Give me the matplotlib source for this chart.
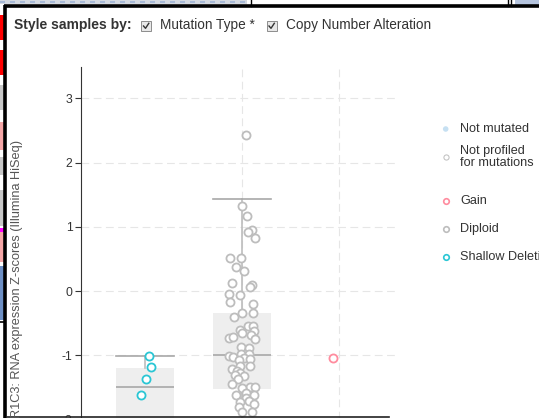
import matplotlib.pyplot as plt
from matplotlib.patches import Rectangle

plt.rcParams['font.family'] = ['Liberation Sans', 'DejaVu Sans']

# Categorias (alteracion de numero de copias) y colores
categories = ["Shallow Deletion", "Diploid", "Gain"]
cat_colors = ["#2ac6d4", "#bdbdbd", "#ff8c9f"]

shallow_values = [-1.01, -1.19, -1.37, -1.62]
shallow_jitter = [0.04, 0.06, 0.01, -0.04]

diploid_values = [2.43, 1.32, 1.17, 0.95, 0.92, 0.82, 0.52, 0.51, 0.38, 0.31,
                  0.12, 0.09, 0.06, -0.05, -0.07, -0.17, -0.20, -0.34, -0.34, -0.41,
                  -0.55, -0.54, -0.61, -0.63, -0.65, -0.69, -0.73, -0.72, -0.74, -0.87,
                  -0.89, -1.01, -1.02, -0.98, -0.98, -1.05, -1.08, -1.06, -1.16, -1.16,
                  -1.22, -1.24, -1.27, -1.31, -1.33, -1.37, -1.44, -1.49, -1.51, -1.50,
                  -1.58, -1.62, -1.62, -1.67, -1.72, -1.71, -1.76, -1.81, -1.89, -1.88]
diploid_jitter = [0.045, -0.003, 0.056, 0.103, 0.062, 0.134, -0.127, -0.010, -0.065, 0.021,
                  -0.103, 0.103, 0.079, -0.134, -0.016, -0.127, 0.113, 0.004, 0.113, -0.082,
                  0.059, 0.110, -0.021, 0.121, -0.003, 0.090, -0.137, -0.093, 0.131, -0.006,
                  0.069, -0.134, -0.093, -0.006, 0.069, 0.021, -0.031, 0.079, -0.024, 0.085,
                  -0.103, -0.052, -0.016, -0.070, 0.018, -0.037, -0.103, 0.079, 0.004, 0.131,
                  0.045, -0.065, 0.121, 0.038, -0.016, 0.072, 0.128, -0.031, 0.004, 0.103]

gain_values = [-1.04]
gain_jitter = [-0.065]

# Estadisticas de las cajas (q1, mediana, q3, bigotes)
box_q1 = [-2.3, -1.52]
box_med = [-1.49, -1.0]
box_q3 = [-1.20, -0.34]
box_whislo = [-2.6, -2.6]
box_whishi = [-1.01, 1.43]

y_ticks = [-2, -1, 0, 1, 2, 3]
y_label = "R1C3: RNA expression Z-scores (Illumina HiSeq)"

legend_mut = ["Not mutated", "Not profiled\nfor mutations"]
legend_cna = ["Gain", "Diploid", "Shallow Deletion"]

W, H = 539, 418
fig = plt.figure(figsize=(W / 100, H / 100), dpi=100)
fig.patch.set_facecolor("white")

# Eje principal (en pixeles: x 81..395, y 67..450)
ax = fig.add_axes([81 / W, (H - 450) / H, (395 - 81) / W, (450 - 67) / H])
ax.set_xlim(-0.66, 2.577)
ax.set_ylim((291 - 450) / 64.25, (291 - 67) / 64.25)
ax.set_facecolor("none")

for s in ["top", "right", "bottom"]:
    ax.spines[s].set_visible(False)
ax.spines["left"].set_color("#333333")
ax.spines["left"].set_linewidth(0.8)

ax.set_yticks(y_ticks)
ax.set_yticklabels([str(t) for t in y_ticks])
ax.tick_params(axis="y", length=4, width=0.8, color="#333333", labelsize=8.8,
               labelcolor="#333333", pad=2)
ax.set_xticks([])

# Rejilla discontinua
for t in y_ticks:
    ax.axhline(t, color="#e6e6e6", lw=0.8, dashes=(7, 4), zorder=0)
for xc in [1, 2]:
    ax.axvline(xc, color="#e6e6e6", lw=0.8, dashes=(7, 4), zorder=0)

# Cajas
stats = []
for i in range(2):
    stats.append({"q1": box_q1[i], "med": box_med[i], "q3": box_q3[i],
                  "whislo": box_whislo[i], "whishi": box_whishi[i], "fliers": []})
ax.bxp(stats, positions=[0, 1], widths=0.6, patch_artist=True, showfliers=False,
       boxprops=dict(facecolor="#eeeeee", edgecolor="none"),
       medianprops=dict(color="#a8a8a8", lw=1.2),
       whiskerprops=dict(color="#bdbdbd", lw=1.2),
       capprops=dict(color="#a8a8a8", lw=1.2), capwidths=0.6,
       manage_ticks=False, zorder=1)

# Puntos
groups = [(shallow_values, shallow_jitter), (diploid_values, diploid_jitter),
          (gain_values, gain_jitter)]
for i, (vals, jit) in enumerate(groups):
    xs = [i + j for j in jit]
    ax.scatter(xs, vals, s=34, facecolor="white", edgecolor=cat_colors[i],
               linewidth=1.3, zorder=3)

# Capa superior en pixeles para textos, leyenda y marcos de la captura
ov = fig.add_axes([0, 0, 1, 1])
ov.set_xlim(0, W)
ov.set_ylim(H, 0)
ov.axis("off")

# Leyenda
ov.scatter([445.7], [129], s=16, color="#c6e0f2", edgecolor="none")
ov.text(460, 129, legend_mut[0], fontsize=9.1, color="#333333", va="center")
ov.scatter([445.7], [157], s=14, facecolor="white", edgecolor="#bdbdbd", linewidth=0.7)
ov.text(460, 157, legend_mut[1], fontsize=9.1, color="#333333", va="center",
        linespacing=0.95)
for k, yy in enumerate([201, 229, 257]):
    col = cat_colors[::-1][k]
    ov.scatter([445.7], [yy], s=16, facecolor="white", edgecolor=col, linewidth=1.2)
    ov.text(460, yy, legend_cna[k], fontsize=9.1, color="#333333", va="center")

# Etiqueta del eje y
ov.text(17.5, 140, y_label, rotation=90, rotation_mode="anchor", ha="right",
        va="center", fontsize=9.2, color="#555555")

# Cabecera
ov.text(14.5, 25.5, "Style samples by:", fontsize=10.0, fontweight="bold",
        color="#333333", va="center")
for cx, label in [(141, "Mutation Type *"), (266.5, "Copy Number Alteration")]:
    ov.add_patch(Rectangle((cx, 21), 10, 10, facecolor="#e8e8e8", edgecolor="#8c8c8c",
                           lw=0.7))
    ov.plot([cx + 2.5, cx + 4.5, cx + 7.8], [26, 28.3, 23.3], color="#333333", lw=1.0)
    ov.text(cx + 19.5, 25.5, label, fontsize=9.8, color="#333333", va="center")

# Restos de la captura: bordes y franjas
ov.add_patch(Rectangle((0, 0), 247, 4, facecolor="#d3d8e0", edgecolor="none"))
ov.plot([0, 247], [2, 2], color="#9fb3d4", lw=1.2, dashes=(3, 3))
ov.add_patch(Rectangle((515, 0), 24, 6, facecolor="#b5c4de", edgecolor="none"))
for vx in [251, 507.5, 511]:
    ov.plot([vx, vx], [0, 6], color="black", lw=1.0)
ov.plot([3.5, 539], [5.8, 5.8], color="black", lw=2.6, solid_capstyle="butt")
ov.plot([5.3, 5.3], [4.5, 418], color="black", lw=2.6, solid_capstyle="butt")
strips = [(15, 40, "#ff0000"), (50, 75, "#ff0000"), (85, 110, "#c8c8c8"),
          (122, 150, "#f4a6a6"), (157, 175, "#c8c8c8"), (190, 226, "#c8c8c8"),
          (228, 232, "#ff00ff"), (232, 262, "#f4a6a6"), (266, 320, "#6d8fc4")]
for y0, y1, c in strips:
    ov.add_patch(Rectangle((0, y0), 3.5, y1 - y0, facecolor=c, edgecolor="none"))
ov.plot([0, 5], [322, 322], color="black", lw=1.2)
ov.plot([7, 389], [416.6, 416.6], color="#222222", lw=1.2)

fig.savefig("out.png", dpi=100, facecolor="white")
